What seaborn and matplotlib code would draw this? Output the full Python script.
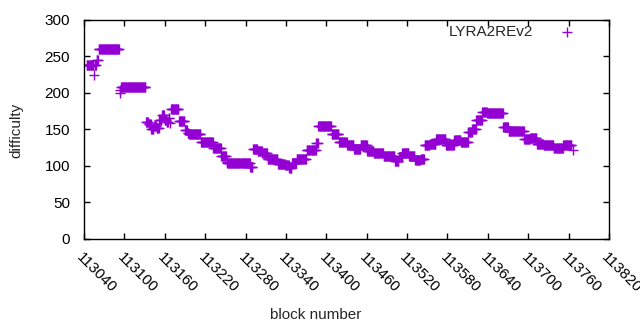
#!/usr/bin/env python3
"""LYRA2REv2 difficulty per block, redrawn in gnuplot style."""

import numpy as np
import pandas as pd
import matplotlib
matplotlib.use("Agg")
import matplotlib.pyplot as plt
import seaborn as sns

# runs of blocks sharing the same difficulty
seg_start = [113044, 113055, 113056, 113059, 113062, 113093, 113094, 113095,
             113132, 113136, 113140, 113144, 113148, 113152, 113156, 113160,
             113163, 113166, 113168, 113169, 113181, 113190, 113194, 113196,
             113214, 113232, 113244, 113252, 113253, 113287, 113291, 113298,
             113305, 113313, 113328, 113339, 113345, 113349, 113356, 113363,
             113371, 113379, 113385, 113388, 113408, 113419, 113431, 113441,
             113451, 113461, 113471, 113485, 113494, 113502, 113508, 113513,
             113523, 113532, 113540, 113546, 113554, 113563, 113578, 113590,
             113600, 113611, 113617, 113623, 113632, 113639, 113663, 113671,
             113694, 113703, 113713, 113723, 113738, 113752, 113767]
seg_end = [113054, 113055, 113058, 113061, 113092, 113093, 113094, 113131,
           113135, 113139, 113143, 113147, 113151, 113155, 113159, 113162,
           113165, 113167, 113168, 113180, 113189, 113193, 113195, 113213,
           113231, 113243, 113251, 113252, 113286, 113290, 113297, 113304,
           113312, 113327, 113338, 113344, 113348, 113355, 113362, 113370,
           113378, 113384, 113387, 113407, 113418, 113430, 113440, 113450,
           113460, 113470, 113484, 113493, 113501, 113507, 113512, 113522,
           113531, 113539, 113545, 113553, 113562, 113577, 113589, 113599,
           113610, 113616, 113622, 113631, 113638, 113662, 113670, 113693,
           113702, 113712, 113722, 113737, 113751, 113764, 113767]
seg_diff = [238, 224, 238, 245, 260, 199, 203, 208,
            160, 157, 151, 154, 152, 162, 169, 162,
            160, 166, 159, 178, 161, 149, 145, 143,
            132, 124, 113, 105, 104, 99, 123, 120,
            117, 110, 102, 101, 97, 104, 109, 110,
            121, 122, 131, 155, 144, 133, 128, 123,
            129, 120, 118, 114, 113, 106, 112, 118,
            113, 108, 110, 128, 130, 136, 129, 135,
            132, 146, 151, 163, 173, 172, 153, 148,
            136, 138, 130, 128, 124, 129, 121]

x_ticks = list(range(113040, 113821, 60))
y_ticks = [0, 50, 100, 150, 200, 250, 300]

blocks, diffs = [], []
for a, b, d in zip(seg_start, seg_end, seg_diff):
    for blk in range(a, b + 1):
        blocks.append(blk)
        diffs.append(d)
df = pd.DataFrame({"block number": blocks, "difficulty": diffs})

sns.set_theme(style="ticks")
plt.rcParams["font.family"] = ["Liberation Sans", "DejaVu Sans"]

fig = plt.figure(figsize=(6.4, 3.3), dpi=100)
ax = fig.add_axes([84 / 640, 91 / 330, 525 / 640, 219.5 / 330])

sns.scatterplot(x="block number", y="difficulty", data=df, ax=ax,
                marker="+", color="#9400d3", s=48, linewidth=1,
                label="LYRA2REv2", legend=False)

ax.set_xlim(113040, 113820)
ax.set_ylim(0, 300)
ax.set_xticks(x_ticks)
ax.set_yticks(y_ticks)
ax.set_xticklabels([str(t) for t in x_ticks], rotation=-45, ha="left",
                   va="top", rotation_mode="anchor", fontsize=11)
ax.set_yticklabels([str(t) for t in y_ticks], fontsize=11)
ax.tick_params(direction="in", length=4, width=1, top=True, right=True,
               color="black", labelcolor="black")
ax.tick_params(axis="y", pad=10)
ax.tick_params(axis="x", pad=8)
for sp in ax.spines.values():
    sp.set_visible(True)
    sp.set_color("black")
    sp.set_linewidth(1)

ax.set_xlabel("")
ax.set_ylabel("")
fig.text(316 / 640, 1 - 315 / 330, "block number", ha="center", va="center",
         fontsize=11)
fig.text(16 / 640, 1 - 130 / 330, "difficulty", ha="center", va="center",
         rotation=90, fontsize=11)

h, l = ax.get_legend_handles_labels()
ax.legend(h, l, loc="upper right", bbox_to_anchor=(0.949, 0.975),
          frameon=False, markerfirst=False, borderpad=0, borderaxespad=0,
          handlelength=2, handletextpad=1.22, fontsize=11)

fig.savefig("out.png", dpi=100)
